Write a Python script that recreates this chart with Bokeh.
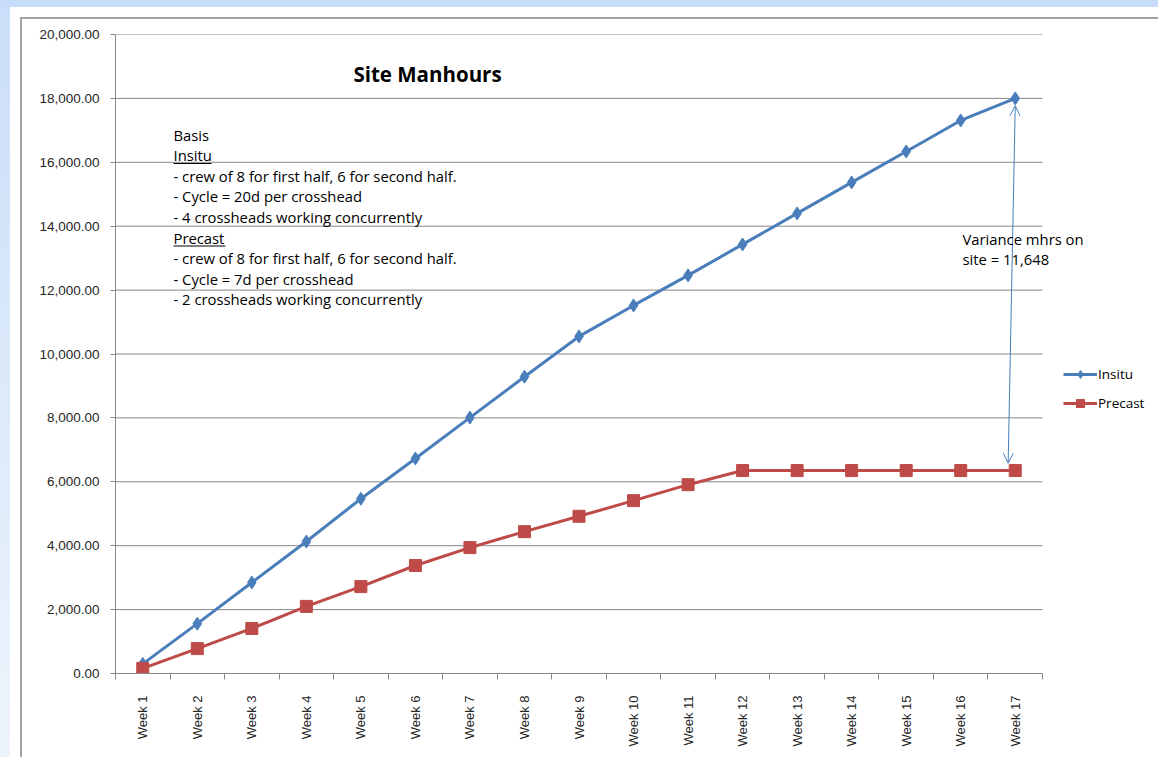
import math
from bokeh.plotting import figure
from bokeh.models import (FixedTicker, NumeralTickFormatter, Label, BoxAnnotation,
                          Arrow, OpenHead, Legend, LegendItem)
from bokeh.embed import file_html
from bokeh.resources import INLINE

# ---------------- data ----------------
weeks = ["Week 1", "Week 2", "Week 3", "Week 4", "Week 5", "Week 6", "Week 7", "Week 8",
         "Week 9", "Week 10", "Week 11", "Week 12", "Week 13", "Week 14", "Week 15",
         "Week 16", "Week 17"]
insitu = [300, 1560, 2850, 4130, 5470, 6730, 8010, 9290, 10550, 11520, 12460,
          13430, 14400, 15370, 16340, 17310, 18000]
precast = [160, 780, 1410, 2100, 2720, 3380, 3940, 4440, 4920, 5410, 5910,
           6352, 6352, 6352, 6352, 6352, 6352]
y_ticks = [0, 2000, 4000, 6000, 8000, 10000, 12000, 14000, 16000, 18000, 20000]
title_text = "Site Manhours"
basis_lines = ["Basis", "Insitu", "- crew of 8 for first half, 6 for second half.",
               "- Cycle = 20d per crosshead", "- 4 crossheads working concurrently",
               "Precast", "- crew of 8 for first half, 6 for second half.",
               "- Cycle = 7d per crosshead", "- 2 crossheads working concurrently"]
underlined = {"Insitu": 38, "Precast": 52}
variance_lines = ["Variance mhrs on", "site = 11,648"]

# ---------------- style ----------------
BLUE = "#4A7EBB"
RED = "#BE4B48"
GRID = "#878787"
FONT = "Open Sans"
AXFONT = "Liberation Sans"
W, H = 1158, 757
LEFT, TOP, BOTTOM = 115, 34, 84
PLOT_W = 927  # width covered by the categories

n = len(weeks)
xs = list(range(1, n + 1))
frame_w = W - LEFT
x_end = 0.5 + n * frame_w / PLOT_W

bg = ("linear-gradient(#a3a3a3,#a3a3a3) 20px 17px / 2px 100% no-repeat, "
      "linear-gradient(#a3a3a3,#a3a3a3) 20px 17px / 100% 2px no-repeat, "
      "linear-gradient(#C6DCF8,#C6DCF8) 0 0 / 100% 7px no-repeat, "
      "linear-gradient(#C9DEF8,#EEF4FC) 0 0 / 10px 100% no-repeat, "
      "#ffffff")

p = figure(width=W, height=H, x_range=(0.5, x_end), y_range=(0, 20000),
           output_backend="svg", toolbar_location=None,
           min_border_left=LEFT, min_border_right=0, min_border_top=TOP, min_border_bottom=BOTTOM,
           background_fill_color="white", border_fill_color="white", border_fill_alpha=0,
           styles={"background": bg})
p.outline_line_color = None

# x axis
p.xaxis.bounds = (0.5, n + 0.5)
p.xaxis.ticker = FixedTicker(ticks=xs, minor_ticks=[i + 0.5 for i in range(0, n + 1)])
p.xaxis.major_label_overrides = {x: w for x, w in zip(xs, weeks)}
p.xaxis.major_label_orientation = math.pi / 2
p.xaxis.major_tick_out = 0
p.xaxis.major_tick_in = 0
p.xaxis.minor_tick_out = 6
p.xaxis.minor_tick_in = 0
p.xaxis.minor_tick_line_color = GRID
p.xaxis.axis_line_color = GRID
p.xaxis.major_label_standoff = 16
p.xaxis.major_label_text_font = AXFONT
p.xaxis.major_label_text_font_size = "13px"
p.xaxis.major_label_text_color = "#262626"

# y axis
p.yaxis.ticker = FixedTicker(ticks=y_ticks)
p.yaxis.formatter = NumeralTickFormatter(format="0,0.00")
p.yaxis.major_tick_out = 5
p.yaxis.major_tick_in = 0
p.yaxis.minor_tick_line_color = None
p.yaxis.major_tick_line_color = GRID
p.yaxis.axis_line_color = GRID
p.yaxis.major_label_standoff = 11
p.yaxis.major_label_text_font = AXFONT
p.yaxis.major_label_text_font_size = "13.5px"
p.yaxis.major_label_text_color = "#262626"

p.xgrid.visible = False
p.ygrid.visible = False
# horizontal gridlines limited to the category span
p.segment(x0=[0.5] * len(y_ticks), x1=[n + 0.5] * len(y_ticks), y0=y_ticks, y1=y_ticks,
          line_color=GRID, line_width=1, level="underlay")

# series
l1 = p.line(xs, insitu, line_color=BLUE, line_width=3)
m1 = p.scatter(xs, insitu, marker="diamond", size=13, fill_color=BLUE, line_color=BLUE)
l2 = p.line(xs, precast, line_color=RED, line_width=3)
m2 = p.scatter(xs, precast, marker="square", size=12, fill_color=RED, line_color=RED)

legend = Legend(items=[LegendItem(label="Insitu", renderers=[l1, m1]),
                       LegendItem(label="Precast", renderers=[l2, m2])],
                location=(948, 260), glyph_width=34, glyph_height=20, label_standoff=1,
                spacing=9, padding=0, margin=0, border_line_color=None,
                background_fill_alpha=0, label_text_font=FONT, label_text_font_size="13.5px",
                label_text_color="#000000", label_height=20)
p.add_layout(legend, "center")

# variance arrow
p.add_layout(Arrow(start=OpenHead(size=10, line_color=BLUE, line_width=1),
                   end=OpenHead(size=10, line_color=BLUE, line_width=1),
                   x_start=xs[-1], y_start=insitu[-1] - 230,
                   x_end=xs[-1] - 0.13, y_end=precast[-1] + 230,
                   line_color=BLUE, line_width=1))

# title
p.add_layout(Label(x=312, y=600, x_units="screen", y_units="screen", text=title_text,
                   text_font=FONT, text_font_style="bold", text_font_size="20.5px",
                   text_align="center", text_baseline="middle", text_color="#000000"))

# basis text
y0 = 539
pitch = 20.6
for i, line in enumerate(basis_lines):
    yy = y0 - i * pitch
    p.add_layout(Label(x=58, y=yy, x_units="screen", y_units="screen", text=line,
                       text_font=FONT, text_font_size="14.8px", text_align="left",
                       text_baseline="middle", text_color="#000000"))
    if line in underlined:
        p.add_layout(BoxAnnotation(left=58, right=58 + underlined[line], bottom=yy - 9, top=yy - 8,
                                   left_units="screen", right_units="screen",
                                   bottom_units="screen", top_units="screen",
                                   fill_color="#000000", fill_alpha=1, line_color=None))

for i, line in enumerate(variance_lines):
    p.add_layout(Label(x=847, y=435 - i * 20.5, x_units="screen", y_units="screen", text=line,
                       text_font=FONT, text_font_size="14.8px", text_align="left",
                       text_baseline="middle", text_color="#000000"))

open("out.html", "w").write(file_html(p, INLINE))
